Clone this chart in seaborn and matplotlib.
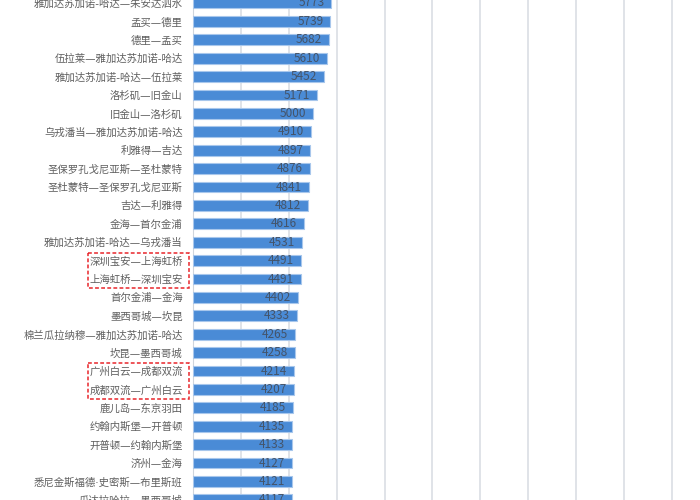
import seaborn as sns
import matplotlib.pyplot as plt
import matplotlib.transforms as mtransforms
from matplotlib.patches import Rectangle
import pandas as pd

routes = ['雅加达苏加诺-哈达—朱安达泗水', '孟买—德里', '德里—孟买', '伍拉莱—雅加达苏加诺-哈达',
          '雅加达苏加诺-哈达—伍拉莱', '洛杉矶—旧金山', '旧金山—洛杉矶', '乌戎潘当—雅加达苏加诺-哈达',
          '利雅得—吉达', '圣保罗孔戈尼亚斯—圣杜蒙特', '圣杜蒙特—圣保罗孔戈尼亚斯', '吉达—利雅得',
          '金海—首尔金浦', '雅加达苏加诺-哈达—乌戎潘当', '深圳宝安—上海虹桥', '上海虹桥—深圳宝安',
          '首尔金浦—金海', '墨西哥城—坎昆', '棉兰瓜拉纳穆—雅加达苏加诺-哈达', '坎昆—墨西哥城',
          '广州白云—成都双流', '成都双流—广州白云', '鹿儿岛—东京羽田', '约翰内斯堡—开普顿',
          '开普顿—约翰内斯堡', '济州—金海', '悉尼金斯福德·史密斯—布里斯班', '瓜达拉哈拉—墨西哥城']
flights = [5773, 5739, 5682, 5610, 5452, 5171, 5000, 4910, 4897, 4876, 4841, 4812, 4616, 4531,
           4491, 4491, 4402, 4333, 4265, 4258, 4214, 4207, 4185, 4135, 4133, 4127, 4121, 4117]
# pairs boxed in red on the original
boxed = [(14, 15), (20, 21)]

df = pd.DataFrame({'route': routes, 'n': flights})

sns.set_style('white')
plt.rcParams['font.family'] = ['Noto Sans CJK SC', 'DejaVu Sans']

fig = plt.figure(figsize=(7, 5), dpi=100)
ax = fig.add_axes([193/700, 0, 507/700, 1])

sns.barplot(data=df, x='n', y='route', orient='h', color='#4a8bd6', saturation=1,
            width=0.58, edgecolor='#a8c7ec', linewidth=0.8, ax=ax, zorder=3)

ax.set_xlim(0, 21170)
ax.set_ylim(27.01, -0.163)
ax.set_xticks(range(2000, 22000, 2000))
ax.xaxis.grid(True, color='#dadee4', linewidth=1.2, zorder=0)
ax.set_axisbelow(True)
ax.tick_params(axis='x', length=0, labelbottom=False)
ax.tick_params(axis='y', length=0, pad=7.5, labelcolor='#5f5f5f')
for t in ax.get_yticklabels():
    t.set_family(['DejaVu Sans', 'Noto Sans CJK SC'])
    t.set_fontsize(7.5)
ax.set_xlabel('')
ax.set_ylabel('')
for s in ['top', 'right', 'bottom']:
    ax.spines[s].set_visible(False)
ax.spines['left'].set_color('#d0d5dc')

for i, v in enumerate(flights):
    ax.annotate(str(v), xy=(v, i), xytext=(-5, 0), textcoords='offset points',
                ha='right', va='center', fontsize=8.5, color='#44546a', zorder=4)

trans = mtransforms.blended_transform_factory(fig.transFigure, ax.transData)
for a, b in boxed:
    ax.add_patch(Rectangle((88/700, a - 0.42), 101/700, (b - a) + 0.92, transform=trans,
                           fill=False, edgecolor='#e8262b', linestyle=(0, (2.5, 1.5)),
                           linewidth=1.1, clip_on=False, zorder=5))

fig.savefig('out.png', dpi=100)
